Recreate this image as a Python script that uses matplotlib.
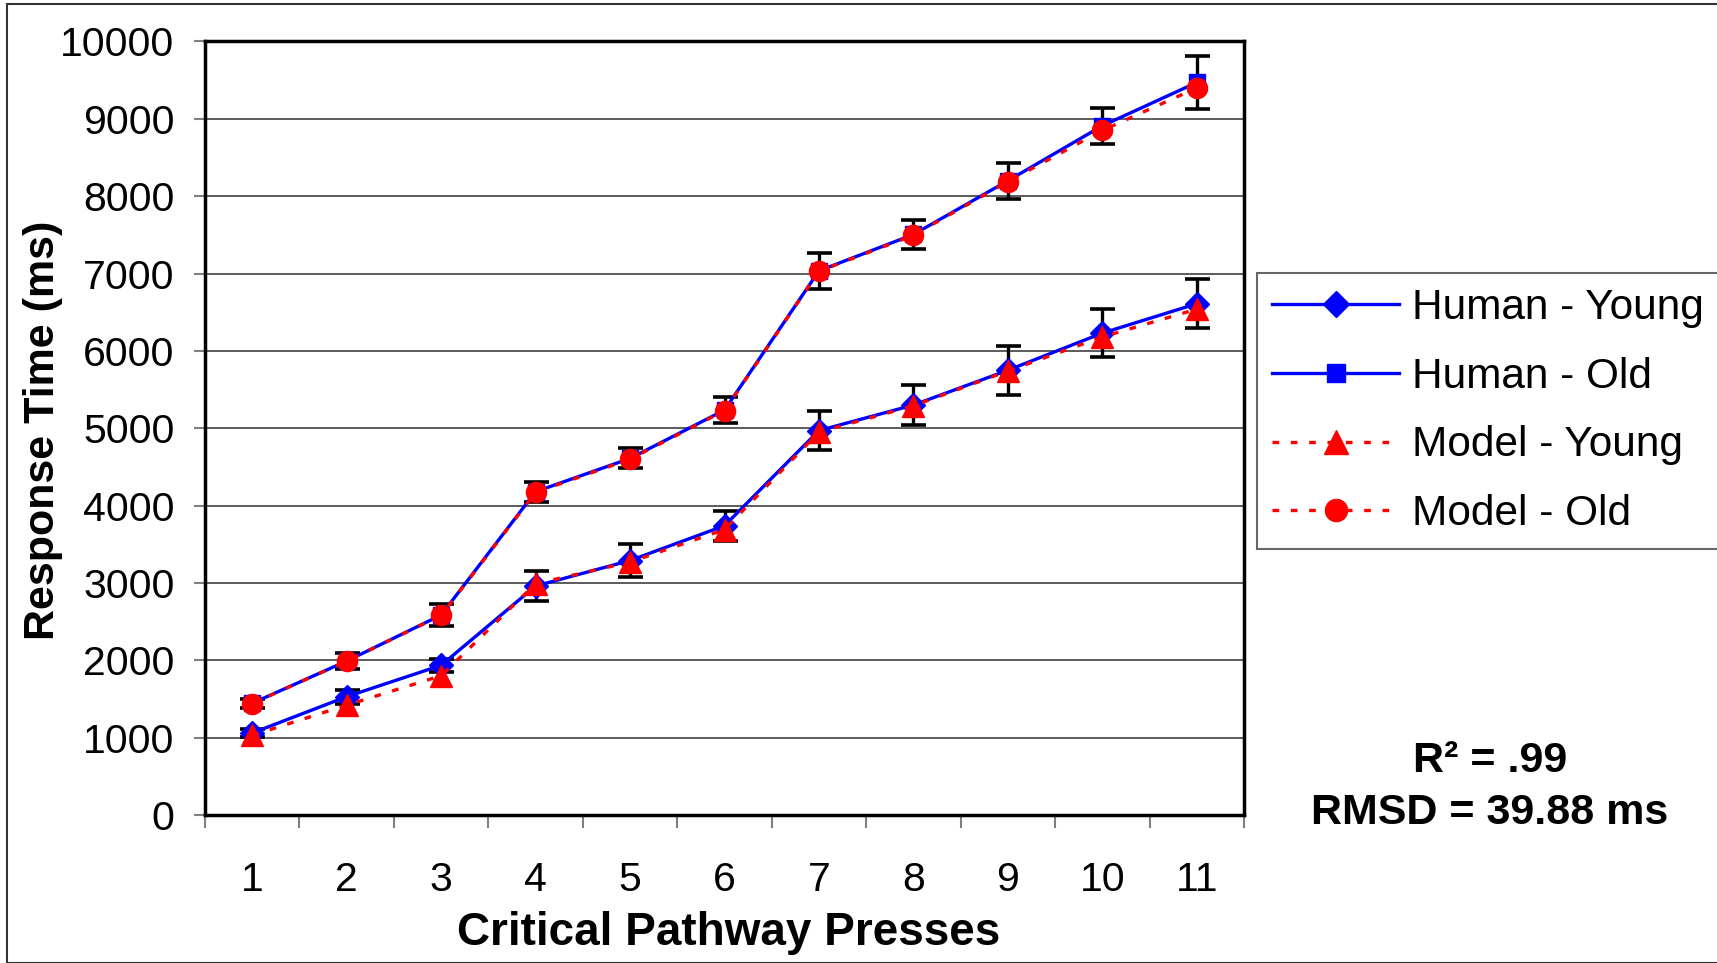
import matplotlib
matplotlib.use("Agg")
import matplotlib.pyplot as plt
from matplotlib.patches import Rectangle
from matplotlib.ticker import FixedLocator

plt.rcParams['font.family'] = ['Liberation Sans', 'DejaVu Sans']

presses = [1, 2, 3, 4, 5, 6, 7, 8, 9, 10, 11]
tick_labels = ['1', '2', '3', '4', '5', '6', '7', '8', '9', '10', '11']
human_young = [1060, 1530, 1935, 2960, 3290, 3740, 4970, 5300, 5750, 6230, 6610]
human_old = [1445, 1990, 2585, 4180, 4610, 5235, 7035, 7505, 8200, 8910, 9470]
model_young = [1030, 1420, 1800, 2990, 3270, 3690, 4950, 5290, 5740, 6180, 6540]
model_old = [1440, 1990, 2580, 4170, 4600, 5227, 7030, 7495, 8188, 8850, 9400]
err_young = [50, 90, 86, 190, 215, 195, 250, 255, 317, 313, 315]
err_old = [60, 100, 145, 130, 130, 170, 233, 190, 233, 233, 340]
y_ticks = [0, 1000, 2000, 3000, 4000, 5000, 6000, 7000, 8000, 9000, 10000]

fig = plt.figure(figsize=(17.17, 9.63), dpi=100)
ax = fig.add_axes([205/1717, 1-815/963, (1244-205)/1717, (815-41.5)/963])

# outer border
fig.patches.append(Rectangle((7/1717, 0), 2, 1-4/963, transform=fig.transFigure,
                             fill=False, edgecolor='#333333', linewidth=1.5))

eb_kw = dict(fmt='none', ecolor='black', elinewidth=2.4, capsize=9, capthick=2.6, zorder=2)
ax.errorbar(presses, human_young, yerr=err_young, **eb_kw)
ax.errorbar(presses, human_old, yerr=err_old, **eb_kw)

ax.plot(presses, human_young, color='#0000FF', lw=2.4, marker='D', ms=12,
        mfc='#0000FF', mec='#0000FF', label='Human - Young', zorder=3)
ax.plot(presses, human_old, color='#0000FF', lw=2.4, marker='s', ms=12,
        mfc='#0000FF', mec='#0000FF', label='Human - Old', zorder=3)
ax.plot(presses, model_young, color='#FF0000', lw=2.4, ls=(0, (2, 3.5)), marker='^', ms=16,
        mfc='#FF0000', mec='#FF0000', label='Model - Young', zorder=4)
ax.plot(presses, model_old, color='#FF0000', lw=2.4, ls=(0, (2, 3.5)), marker='o', ms=14.5,
        mfc='#FF0000', mec='#FF0000', label='Model - Old', zorder=4)

ax.set_xlim(0.5, 11.5)
ax.set_ylim(0, 10000)
ax.set_yticks(y_ticks)
ax.set_yticklabels([str(v) for v in y_ticks])
ax.set_xticks(presses)
ax.set_xticklabels(tick_labels)
ax.xaxis.set_minor_locator(FixedLocator([i + 0.5 for i in range(0, 12)]))
ax.tick_params(axis='x', which='major', length=0, pad=33, labelsize=29.5)
ax.tick_params(axis='x', which='minor', length=9.5, width=1.5, color='#808080')
ax.tick_params(axis='y', which='major', length=8, width=1.5, color='#808080', pad=14, labelsize=29.5)

ax.grid(axis='y', color='#404040', lw=1.2, zorder=0)
ax.set_axisbelow(True)
for s in ax.spines.values():
    s.set_linewidth(2.5)
    s.set_color('black')

fig.text(665*1717/1568/1717, 1-933/963, 'Critical Pathway Presses', fontsize=33,
         fontweight='bold', ha='center', va='center')
fig.text(43/1717, 1-430/963, 'Response Time (ms)', fontsize=31, fontweight='bold',
         rotation=90, ha='center', va='center')

leg = ax.legend(loc='upper left', bbox_to_anchor=(1257/1717, 1-273/963),
                bbox_transform=fig.transFigure, borderaxespad=0, fontsize=30.5,
                frameon=True, fancybox=False, edgecolor='#404040', handlelength=3.0,
                labelspacing=0.675, borderpad=0.36, handletextpad=0.3, markerscale=1.1)
leg.get_frame().set_linewidth(1.5)

fig.text(1490/1717, 1-761/963, 'R² = .99', fontsize=31, fontweight='bold',
         ha='center', va='center')
fig.text(1490/1717, 1-813/963, 'RMSD = 39.88 ms', fontsize=31, fontweight='bold',
         ha='center', va='center')

fig.savefig('out.png', dpi=100)
